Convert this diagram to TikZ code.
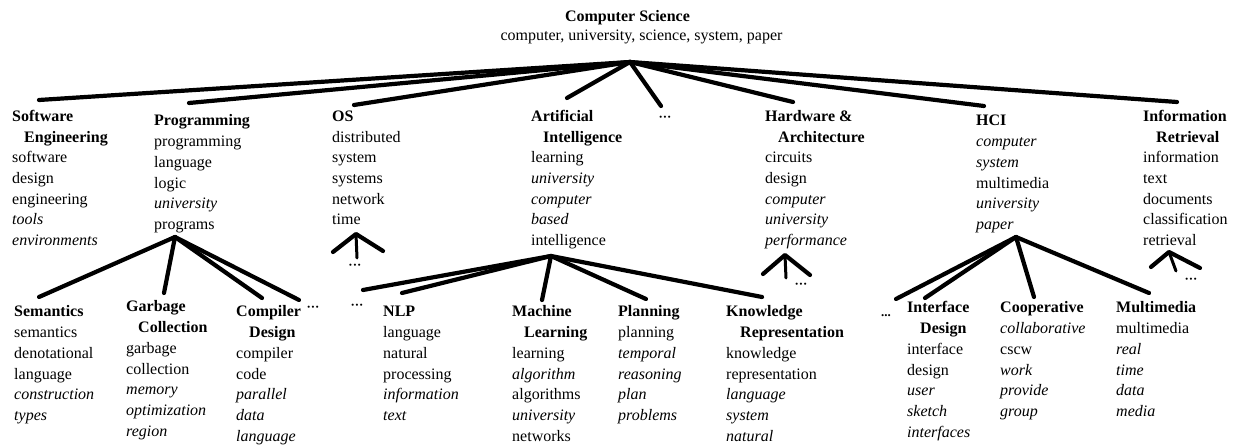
\documentclass[tikz,border=0pt]{standalone}
\usepackage{fontspec}
\setmainfont{Liberation Serif}
\newcommand\colx[1]{\begin{tabular}[t]{@{}l@{}}#1\end{tabular}}
\tikzset{
  col/.style={anchor=base west, inner sep=0pt, font=\fontsize{16}{20.7}\selectfont},
  ttl/.style={anchor=base, inner sep=0pt, font=\fontsize{16}{20.7}\selectfont},
  dotsnode/.style={anchor=base, inner sep=0pt, font=\fontsize{13}{14}\selectfont\bfseries},
  link/.style={line width=4.2pt, line cap=round, line join=round},
  stem/.style={line width=3pt, line cap=round},
}
\begin{document}
\begin{tikzpicture}[x=1pt,y=-1pt]
\useasboundingbox (0,0) rectangle (1235,446);
% root
\node[ttl] (cs) at (627.5,22) {\textbf{Computer Science}};
\node[ttl] (cskw) at (641.5,40.5) {computer, university, science, system, paper};
% level 1
\node[col] (se) at (12,121.5) {\colx{\textbf{Software}\\\hspace*{12pt}\textbf{Engineering}\\software\\design\\engineering\\\textit{tools}\\\textit{environments}}};
\node[col] (prog) at (154,126) {\colx{\textbf{Programming}\\programming\\language\\logic\\\textit{university}\\programs}};
\node[col] (os) at (332,121.5) {\colx{\textbf{OS}\\distributed\\system\\systems\\network\\time}};
\node[col] (ai) at (531,121.5) {\colx{\textbf{Artificial}\\\hspace*{12pt}\textbf{Intelligence}\\learning\\\textit{university}\\\textit{computer}\\\textit{based}\\intelligence}};
\node[dotsnode] (d1) at (665,122) {···};
\node[col] (ha) at (765,121.5) {\colx{\textbf{Hardware \&}\\\hspace*{13pt}\textbf{Architecture}\\circuits\\design\\\textit{computer}\\\textit{university}\\\textit{performance}}};
\node[col] (hci) at (976,126) {\colx{\textbf{HCI}\\\textit{computer}\\\textit{system}\\multimedia\\\textit{university}\\\textit{paper}}};
\node[col] (ir) at (1143,121.5) {\colx{\textbf{Information}\\\hspace*{13pt}\textbf{Retrieval}\\information\\text\\documents\\classification\\retrieval}};
% level 2
\node[col] (sem) at (14,317) {\colx{\textbf{Semantics}\\semantics\\denotational\\language\\\textit{construction}\\\textit{types}}};
\node[col] (gc) at (126,312) {\colx{\textbf{Garbage}\\\hspace*{12pt}\textbf{Collection}\\garbage\\collection\\\textit{memory}\\\textit{optimization}\\\textit{region}}};
\node[col] (cd) at (236,317) {\colx{\textbf{Compiler}\\\hspace*{13pt}\textbf{Design}\\compiler\\code\\\textit{parallel}\\\textit{data}\\\textit{language}}};
\node[dotsnode] (dcd) at (313,312) {···};
\node[dotsnode] (dai) at (357,310) {···};
\node[col] (nlp) at (383,317) {\colx{\textbf{NLP}\\language\\natural\\processing\\\textit{information}\\\textit{text}}};
\node[col] (ml) at (512,317) {\colx{\textbf{Machine}\\\hspace*{12pt}\textbf{Learning}\\learning\\\textit{algorithm}\\algorithms\\\textit{university}\\networks}};
\node[col] (pl) at (618,317) {\colx{\textbf{Planning}\\planning\\\textit{temporal}\\\textit{reasoning}\\\textit{plan}\\\textit{problems}}};
\node[col] (kr) at (726,317) {\colx{\textbf{Knowledge}\\\hspace*{14pt}\textbf{Representation}\\knowledge\\representation\\\textit{language}\\\textit{system}\\\textit{natural}}};
\node[dotsnode] (dhci) at (886,317) {...};
\node[col] (id) at (907,313) {\colx{\textbf{Interface}\\\hspace*{13pt}\textbf{Design}\\interface\\design\\\textit{user}\\\textit{sketch}\\\textit{interfaces}}};
\node[col] (coop) at (1000,313) {\colx{\textbf{Cooperative}\\\textit{collaborative}\\cscw\\\textit{work}\\\textit{provide}\\\textit{group}}};
\node[col] (mm) at (1116,313) {\colx{\textbf{Multimedia}\\multimedia\\\textit{real}\\\textit{time}\\\textit{data}\\\textit{media}}};
% truncated-children dots
\node[dotsnode] (dos) at (355,270) {···};
\node[dotsnode] (dha) at (801,289) {···};
\node[dotsnode] (dir) at (1191,284) {···};
% junctions and connector ends
\coordinate (jr) at (630,62);
\coordinate (jprog) at (175,237);
\coordinate (jai) at (551,256);
\coordinate (jhci) at (1016,237);
\coordinate (ese) at (39,100);
\coordinate (eprog) at (189,103);
\coordinate (eos) at (354,105);
\coordinate (eai) at (567,98);
\coordinate (ed1) at (661,106);
\coordinate (eha) at (793,102);
\coordinate (ehci) at (984,106);
\coordinate (eir) at (1177,102);
\coordinate (esem) at (39,297);
\coordinate (egc) at (164,293);
\coordinate (ecd) at (262,298);
\coordinate (edcd) at (299,300);
\coordinate (edai) at (363,290);
\coordinate (enlp) at (402,293);
\coordinate (eml) at (542,300);
\coordinate (epl) at (646,299);
\coordinate (ekr) at (762,297);
\coordinate (edhci) at (896,299);
\coordinate (eid) at (925,298);
\coordinate (ecoop) at (1034,297);
\coordinate (emm) at (1149,293);
% marks
\coordinate (osT) at (356,234); \coordinate (osL) at (333,252);
\coordinate (osR) at (383,251); \coordinate (osS) at (357,258);
\coordinate (haT) at (785,255); \coordinate (haL) at (763,274);
\coordinate (haR) at (810,275); \coordinate (haS) at (786,278);
\coordinate (irT) at (1169,252); \coordinate (irL) at (1151,267);
\coordinate (irR) at (1200,268); \coordinate (irS) at (1176,271);
% connectors
\foreach \e in {ese,eprog,eos,eai,ed1,eha,ehci,eir} \draw[link] (jr) -- (\e);
\foreach \e in {esem,egc,ecd,edcd} \draw[link] (jprog) -- (\e);
\foreach \e in {edai,enlp,eml,epl,ekr} \draw[link] (jai) -- (\e);
\foreach \e in {edhci,eid,ecoop,emm} \draw[link] (jhci) -- (\e);
\draw[link] (osL) -- (osT) -- (osR);
\draw[stem] (osT) -- (osS);
\draw[link] (haL) -- (haT) -- (haR);
\draw[stem] (haT) -- (haS);
\draw[link] (irL) -- (irT) -- (irR);
\draw[stem] (irT) -- (irS);
\end{tikzpicture}
\end{document}
